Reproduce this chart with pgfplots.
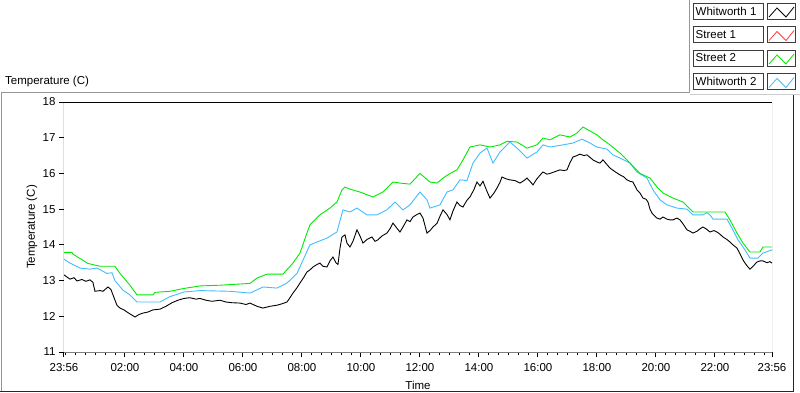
\documentclass[border=0pt]{standalone}
\usepackage{fontspec}
\setmainfont{Liberation Sans}
\usepackage{pgfplots}
\pgfplotsset{compat=1.18}
\definecolor{cgreen}{RGB}{0,235,0}
\definecolor{cblue}{RGB}{64,190,255}
\definecolor{cred}{RGB}{255,64,64}
\definecolor{frgray}{RGB}{150,150,150}
\definecolor{axgray}{RGB}{128,128,128}
\definecolor{lgbox}{RGB}{60,60,60}
\begin{document}
\begin{tikzpicture}[font=\fontsize{11.5}{13}\selectfont]
\useasboundingbox (0pt,0pt) rectangle (800pt,392pt);
\fill[white] (0pt,0pt) rectangle (800pt,392pt);
% outer frames
\draw[frgray, line width=1pt] (1pt,0pt) -- (1pt,300pt) -- (689.5pt,300pt) -- (689.5pt,392pt);
\draw[black!85, line width=1pt] (0pt,1pt) -- (793.5pt,1pt) -- (793.5pt,297.7pt);
\draw[black!20, line width=1pt] (689.5pt,297.7pt) -- (800pt,297.7pt);
\node[anchor=west, inner sep=0pt] at (5pt,310pt) {Temperature (C)};
% legend
\foreach \top/\name/\col in {3/Whitworth 1/black, 26.5/Street 1/cred, 50/Street 2/cgreen, 73.5/Whitworth 2/cblue}{
  \draw[lgbox, line width=0.8pt, fill=white] (693pt,{(376-\top)*1pt}) rectangle (763pt,{(392-\top)*1pt});
  \node[anchor=west, inner sep=0pt] at (695.5pt,{(384-\top)*1pt}) {\name};
  \draw[lgbox, line width=0.8pt, fill=white] (767pt,{(376-\top)*1pt}) rectangle (795pt,{(392-\top)*1pt});
  \draw[\col, line width=0.8pt] (769pt,{(378-\top)*1pt}) -- (777pt,{(387-\top)*1pt}) -- (786pt,{(378-\top)*1pt}) -- (794pt,{(388-\top)*1pt});
}
\begin{axis}[
  at={(64pt,40pt)}, anchor=south west,
  width=708pt, height=250pt, scale only axis,
  xmin=-0.06667, xmax=23.93333, ymin=11, ymax=18,
  axis line style={draw=none},
  ytick={11,12,13,14,15,16,17,18},
  xtick={-0.06667,2,4,6,8,10,12,14,16,18,20,22,23.93333},
  xticklabels={23:56,02:00,04:00,06:00,08:00,10:00,12:00,14:00,16:00,18:00,20:00,22:00,23:56},
  minor xtick={0,0.3333,0.6667,1,1.3333,1.6667,2.3333,2.6667,3,3.3333,3.6667,4.3333,4.6667,5,5.3333,5.6667,6.3333,6.6667,7,7.3333,7.6667,8.3333,8.6667,9,9.3333,9.6667,10.3333,10.6667,11,11.3333,11.6667,12.3333,12.6667,13,13.3333,13.6667,14.3333,14.6667,15,15.3333,15.6667,16.3333,16.6667,17,17.3333,17.6667,18.3333,18.6667,19,19.3333,19.6667,20.3333,20.6667,21,21.3333,21.6667,22.3333,22.6667,23,23.3333,23.6667},
  tick align=outside, xtick pos=left, ytick pos=left,
  major tick length=5pt, minor tick length=3pt,
  major tick style={black, line width=1pt},
  minor tick style={black, line width=1pt},
  /pgf/number format/assume math mode=true,
  xticklabel style={yshift=-2.5pt},
  xlabel={Time}, ylabel={Temperature (C)},
  every axis x label/.style={at={(axis description cs:0.5,-0.132)}, anchor=center},
  every axis y label/.style={at={(axis description cs:-0.0452,0.5)}, rotate=90, anchor=center},
  clip=true,
]
\addplot[black, line width=0.9pt] coordinates {
(-0.067,13.16) (0.034,13.10) (0.136,13.04) (0.271,13.08) (0.373,12.99) (0.542,13.03) (0.678,12.98) (0.814,13.02) (0.915,12.95) (0.983,12.70) (1.153,12.72) (1.254,12.70) (1.424,12.82) (1.525,12.75) (1.593,12.60) (1.729,12.31) (1.831,12.23) (1.966,12.18) (2.068,12.12) (2.203,12.05) (2.339,11.98) (2.475,12.05) (2.610,12.09) (2.780,12.12) (2.949,12.18) (3.186,12.20) (3.390,12.28) (3.593,12.38) (3.797,12.45) (4.000,12.50) (4.203,12.52) (4.407,12.48) (4.542,12.50) (4.746,12.45) (4.949,12.42) (5.220,12.45) (5.424,12.40) (5.627,12.38) (5.898,12.37) (6.102,12.33) (6.237,12.37) (6.475,12.28) (6.678,12.23) (6.915,12.28) (7.153,12.31) (7.322,12.35) (7.492,12.40) (7.593,12.52) (7.695,12.65) (7.831,12.80) (7.932,12.93) (8.068,13.10) (8.169,13.24) (8.271,13.30) (8.373,13.38) (8.508,13.45) (8.610,13.49) (8.712,13.40) (8.847,13.38) (8.949,13.55) (9.051,13.66) (9.153,13.50) (9.220,13.45) (9.288,13.90) (9.356,14.22) (9.458,14.28) (9.525,14.05) (9.627,13.94) (9.729,14.10) (9.864,14.42) (9.966,14.25) (10.068,14.05) (10.203,14.15) (10.373,14.22) (10.475,14.10) (10.576,14.14) (10.712,14.25) (10.881,14.33) (10.983,14.45) (11.085,14.61) (11.186,14.50) (11.322,14.36) (11.424,14.50) (11.559,14.70) (11.661,14.65) (11.763,14.78) (11.898,14.85) (12.000,14.89) (12.102,14.75) (12.237,14.33) (12.339,14.40) (12.441,14.50) (12.576,14.60) (12.678,14.80) (12.780,14.98) (12.915,14.85) (13.017,14.70) (13.119,14.95) (13.254,15.20) (13.356,15.10) (13.458,15.06) (13.593,15.25) (13.695,15.34) (13.831,15.55) (13.932,15.76) (14.034,15.65) (14.136,15.78) (14.271,15.50) (14.373,15.31) (14.508,15.45) (14.610,15.59) (14.712,15.75) (14.780,15.90) (14.915,15.85) (15.051,15.82) (15.220,15.80) (15.390,15.73) (15.525,15.80) (15.627,15.87) (15.729,15.78) (15.831,15.68) (15.966,15.85) (16.068,15.95) (16.169,16.04) (16.305,15.98) (16.407,16.00) (16.576,16.05) (16.746,16.10) (16.881,16.08) (16.983,16.10) (17.085,16.30) (17.186,16.46) (17.322,16.50) (17.424,16.54) (17.559,16.50) (17.661,16.52) (17.763,16.45) (17.864,16.38) (18.000,16.32) (18.102,16.29) (18.203,16.38) (18.305,16.28) (18.441,16.15) (18.610,16.05) (18.780,15.96) (18.915,15.90) (19.017,15.82) (19.119,15.78) (19.220,15.76) (19.356,15.54) (19.458,15.45) (19.559,15.31) (19.661,15.28) (19.729,15.20) (19.797,15.00) (19.864,14.89) (19.966,14.80) (20.034,14.75) (20.136,14.72) (20.237,14.78) (20.373,14.72) (20.475,14.70) (20.576,14.70) (20.712,14.75) (20.814,14.70) (20.949,14.55) (21.051,14.42) (21.153,14.38) (21.254,14.33) (21.390,14.38) (21.492,14.45) (21.593,14.50) (21.695,14.45) (21.831,14.36) (21.966,14.40) (22.068,14.36) (22.169,14.30) (22.271,14.22) (22.407,14.15) (22.508,14.08) (22.610,14.00) (22.746,13.91) (22.847,13.75) (22.949,13.58) (23.051,13.45) (23.119,13.38) (23.186,13.32) (23.288,13.40) (23.424,13.52) (23.525,13.55) (23.627,13.55) (23.763,13.50) (23.864,13.53) (23.933,13.49)
};
\addplot[cblue, line width=0.9pt] coordinates {
(-0.067,13.60) (0.136,13.49) (0.475,13.35) (0.814,13.32) (1.051,13.35) (1.390,13.20) (1.559,13.22) (1.661,13.00) (1.932,12.73) (2.169,12.60) (2.407,12.40) (3.186,12.40) (3.525,12.55) (4.000,12.68) (4.542,12.72) (5.559,12.70) (6.237,12.65) (6.678,12.82) (7.153,12.79) (7.492,12.93) (7.831,13.20) (8.034,13.57) (8.271,14.00) (8.508,14.08) (8.847,14.19) (9.186,14.36) (9.390,14.98) (9.627,14.92) (9.864,15.03) (10.203,14.84) (10.542,14.84) (10.881,14.98) (11.153,15.20) (11.424,14.98) (11.661,15.12) (12.000,15.48) (12.237,15.26) (12.339,15.03) (12.678,15.12) (12.915,15.48) (13.119,15.54) (13.356,15.82) (13.593,15.80) (13.797,16.29) (14.034,16.57) (14.271,16.71) (14.475,16.29) (14.712,16.60) (15.051,16.88) (15.288,16.71) (15.627,16.43) (15.966,16.60) (16.169,16.80) (16.407,16.74) (16.847,16.80) (17.186,16.85) (17.492,16.96) (17.763,16.85) (18.000,16.74) (18.339,16.68) (18.542,16.52) (18.780,16.43) (19.119,16.29) (19.356,16.04) (19.695,15.87) (19.898,15.54) (20.136,15.26) (20.373,15.12) (20.712,15.03) (21.051,15.00) (21.254,14.84) (21.593,14.84) (21.729,14.90) (21.831,14.84) (21.932,14.72) (22.407,14.72) (22.576,14.47) (22.780,14.14) (23.017,13.86) (23.186,13.63) (23.458,13.63) (23.627,13.77) (23.933,13.86)
};
\addplot[cgreen, line width=0.9pt] coordinates {
(-0.067,13.79) (0.203,13.79) (0.237,13.74) (0.746,13.48) (1.153,13.40) (1.661,13.40) (1.831,13.20) (2.169,12.87) (2.407,12.60) (2.949,12.60) (3.017,12.67) (3.525,12.70) (4.000,12.78) (4.542,12.85) (5.220,12.87) (6.237,12.92) (6.475,13.07) (6.814,13.18) (7.356,13.18) (7.695,13.49) (7.932,13.77) (8.169,14.33) (8.271,14.56) (8.610,14.84) (8.949,15.03) (9.186,15.20) (9.356,15.54) (9.458,15.62) (9.627,15.56) (9.966,15.48) (10.407,15.34) (10.746,15.48) (11.085,15.76) (11.322,15.73) (11.661,15.70) (12.000,16.00) (12.339,15.76) (12.576,15.73) (12.780,15.87) (13.017,16.00) (13.254,16.10) (13.458,16.38) (13.695,16.74) (14.034,16.80) (14.373,16.74) (14.712,16.80) (14.949,16.90) (15.288,16.88) (15.627,16.71) (15.966,16.80) (16.169,16.99) (16.407,16.94) (16.746,17.08) (17.085,17.02) (17.322,17.13) (17.525,17.30) (17.763,17.19) (18.000,17.08) (18.203,16.94) (18.441,16.80) (18.780,16.57) (19.119,16.29) (19.458,16.00) (19.797,15.87) (20.034,15.62) (20.237,15.45) (20.576,15.31) (20.915,15.20) (21.254,14.92) (22.339,14.92) (22.508,14.70) (22.746,14.33) (22.949,14.05) (23.186,13.80) (23.525,13.80) (23.627,13.94) (23.933,13.94)
};
\draw[black, line width=1pt] (rel axis cs:0,0) -- (rel axis cs:0,1) -- (rel axis cs:1,1);
\draw[axgray, line width=1pt] (rel axis cs:0,0) -- (rel axis cs:1,0) -- (rel axis cs:1,1);
\end{axis}
\end{tikzpicture}
\end{document}
